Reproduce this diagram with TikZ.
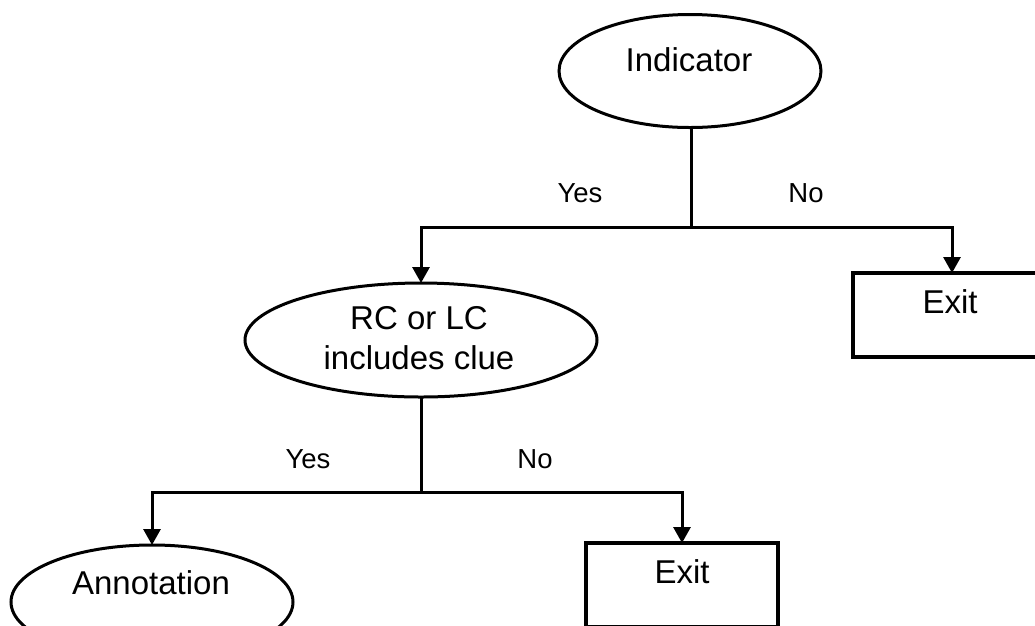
\documentclass[tikz,border=0pt]{standalone}
\usepackage{fontspec}
\setmainfont{Liberation Sans}
\usetikzlibrary{arrows.meta,shapes.geometric}
\begin{document}
\begin{tikzpicture}[x=1pt,y=-1pt,
  every node/.style={inner sep=0pt, outer sep=0pt},
  txt/.style={font=\fontsize{33}{40}\selectfont, align=center, text=black},
  lbl/.style={font=\fontsize{27.5}{32}\selectfont, text=black},
  ell/.style={draw=black, line width=3pt, ellipse, fill=white},
  boxnode/.style={draw=black, line width=3.5pt, rectangle, fill=white},
  conn/.style={draw=black, line width=3pt},
  arr/.style={conn, -{Triangle[width=17pt,length=16pt]}}]
\clip (0,0) rectangle (1035,625);
\fill[white] (0,0) rectangle (1035,625);

% decision and end shapes
\node[ell, minimum width=262pt, minimum height=113pt] (ind) at (690,71) {};
\node[ell, minimum width=352pt, minimum height=114pt] (rc) at (421,340) {};
\node[boxnode, minimum width=198pt, minimum height=84pt] (exitA) at (952,315) {};
\node[ell, minimum width=282pt, minimum height=114pt] (ann) at (152,602) {};
\node[boxnode, minimum width=192pt, minimum height=84pt] (exitB) at (682,585) {};

% texts inside the shapes
\node[txt] (indT) at (689,60) {Indicator};
\node[txt] (rcT) at (419,338) {RC or LC\\includes clue};
\node[txt] (exitAT) at (950,302) {Exit};
\node[txt] (annT) at (151,583) {Annotation};
\node[txt] (exitBT) at (682,572) {Exit};

% branch points
\coordinate (j1) at (691,227);
\coordinate (j2) at (421,492);

% connectors
\draw[conn] (ind.south -| j1) -- (j1);
\draw[arr] (j1) -| (rc.north);
\draw[arr] (j1) -| (exitA.north);
\draw[conn] (rc.south) -- (j2);
\draw[arr] (j2) -| (ann.north);
\draw[arr] (j2) -| (exitB.north);

% branch labels
\node[lbl] (y1) at (580,193) {Yes};
\node[lbl] (n1) at (806,193) {No};
\node[lbl] (y2) at (308,459) {Yes};
\node[lbl] (n2) at (535,459) {No};
\end{tikzpicture}
\end{document}
